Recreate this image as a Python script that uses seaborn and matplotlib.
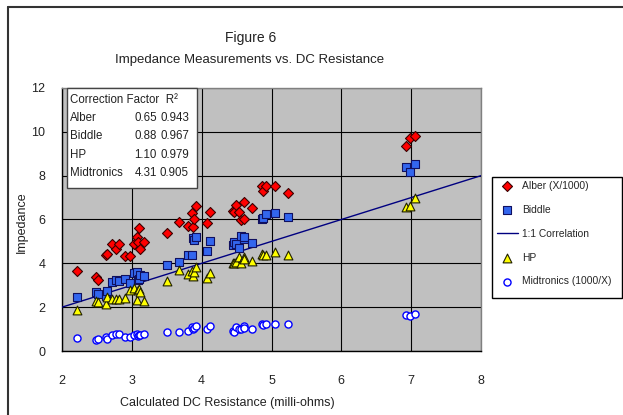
import matplotlib
matplotlib.use("Agg")
import matplotlib.pyplot as plt
import seaborn as sns
from matplotlib.patches import Rectangle
from matplotlib.lines import Line2D

# Calculated DC resistance of each sample (milli-ohms)
dc_resistance = [2.22, 2.48, 2.51, 2.63, 2.65, 2.71, 2.78, 2.82, 2.90, 2.98,
                 3.03, 3.08, 3.09, 3.10, 3.11, 3.17, 3.50, 3.68, 3.80, 3.86,
                 3.87, 3.89, 3.92, 4.07, 4.12, 4.45, 4.47, 4.49, 4.54, 4.56,
                 4.60, 4.61, 4.72, 4.87, 4.88, 4.92, 5.05, 5.23, 6.93, 6.98, 7.05]

# Impedance readings per instrument
alber = [3.64, 3.36, 3.22, 4.37, 4.42, 4.87, 4.67, 4.87, 4.34, 4.34,
         4.87, 5.22, 4.98, 5.63, 4.67, 4.96, 5.37, 5.87, 5.71, 6.28,
         5.65, 6.04, 6.62, 5.84, 6.36, 6.41, 6.33, 6.65, 6.33, 5.98,
         6.79, 6.04, 6.51, 7.55, 7.31, 7.53, 7.53, 7.20, 9.36, 9.71, 9.83]
biddle = [2.47, 2.68, 2.60, 2.49, 2.73, 3.13, 3.24, 3.20, 3.29, 3.09,
          3.56, 3.60, 3.24, 3.30, 3.45, 3.40, 3.91, 4.05, 4.38, 4.38,
          5.14, 5.05, 5.19, 4.57, 5.02, 4.84, 4.98, 4.90, 4.72, 5.25,
          5.13, 5.20, 4.93, 6.01, 6.05, 6.24, 6.28, 6.12, 8.38, 8.16, 8.55]
hp = [1.87, 2.30, 2.22, 2.15, 2.45, 2.36, 2.36, 2.36, 2.44, 2.79,
      2.88, 2.33, 2.79, 2.85, 2.70, 2.30, 3.21, 3.70, 3.50, 3.67,
      3.42, 3.60, 3.85, 3.35, 3.55, 4.02, 4.00, 4.05, 4.27, 4.00,
      4.30, 4.20, 4.09, 4.41, 4.40, 4.38, 4.51, 4.38, 6.55, 6.60, 6.97]
midtronics = [0.59, 0.50, 0.53, 0.65, 0.55, 0.71, 0.76, 0.76, 0.65, 0.65,
              0.73, 0.78, 0.70, 0.75, 0.72, 0.78, 0.88, 0.88, 0.93, 1.11,
              0.99, 1.05, 1.14, 0.99, 1.16, 0.93, 0.85, 1.11, 0.99, 0.99,
              1.14, 1.05, 0.99, 1.23, 1.20, 1.25, 1.25, 1.25, 1.65, 1.60, 1.70]

# 1:1 reference line
correlation_x = [2, 8]
correlation_y = [2, 8]

# Correction factor table
table_names = ["Alber", "Biddle", "HP", "Midtronics"]
correction_factor = ["0.65", "0.88", "1.10", "4.31"]
r_squared = ["0.943", "0.967", "0.979", "0.905"]

x_ticks = [2, 3, 4, 5, 6, 7, 8]
y_ticks = [0, 2, 4, 6, 8, 10, 12]

sns.set_theme(style="white")
plt.rcParams["font.family"] = ["Liberation Sans", "DejaVu Sans"]

W, H = 623, 415
fig = plt.figure(figsize=(W / 100, H / 100), dpi=100)
fig.patch.set_facecolor("white")


def fx(px):
    return px / W


def fy(py):
    return 1 - py / H


ax = fig.add_axes([fx(62), fy(351), fx(481) - fx(62), fy(88) - fy(351)])
ax.set_facecolor("#c0c0c0")

sns.scatterplot(x=dc_resistance, y=alber, marker="D", color="#ff0000",
                edgecolor="#3a0000", linewidth=0.8, s=26, ax=ax, zorder=4,
                label="Alber (X/1000)")
sns.scatterplot(x=dc_resistance, y=biddle, marker="s", color="#3366ee",
                edgecolor="#101060", linewidth=0.8, s=32, ax=ax, zorder=4,
                label="Biddle")
sns.lineplot(x=correlation_x, y=correlation_y, color="#000080", linewidth=1.0,
             ax=ax, zorder=3, label="1:1 Correlation")
sns.scatterplot(x=dc_resistance, y=hp, marker="^", color="#ffff00",
                edgecolor="#202000", linewidth=0.8, s=40, ax=ax, zorder=4,
                label="HP")
sns.scatterplot(x=dc_resistance, y=midtronics, marker="o", color="white",
                edgecolor="#0000ff", linewidth=1.0, s=26, ax=ax, zorder=4,
                label="Midtronics (1000/X)")

ax.set_xlim(2, 8)
ax.set_ylim(0, 12)
ax.set_xticks(x_ticks)
ax.set_yticks(y_ticks)
ax.set_xticklabels([str(v) for v in x_ticks])
ax.set_yticklabels([str(v) for v in y_ticks])
ax.grid(True, color="black", linewidth=0.8)
ax.set_axisbelow(True)
ax.tick_params(axis="both", direction="inout", length=6, width=1,
               color="black", labelsize=9, labelcolor="#222222")
ax.tick_params(axis="x", pad=14)
ax.tick_params(axis="y", pad=9)
ax.set_xlabel("")
ax.set_ylabel("")
for side in ("left", "bottom"):
    ax.spines[side].set_color("black")
    ax.spines[side].set_linewidth(1.0)
for side in ("top", "right"):
    ax.spines[side].set_color("#808080")
    ax.spines[side].set_linewidth(1.0)

# Legend to the right of the plot
handles, labels = ax.get_legend_handles_labels()
ax.get_legend().remove()
fig.legend(handles, labels, loc="upper left",
           bbox_to_anchor=(fx(497), fy(181)), frameon=False, fontsize=7.4,
           labelspacing=1.35, handlelength=2.0, handletextpad=0.45,
           borderaxespad=0, borderpad=0)
fig.patches.append(Rectangle((fx(492), fy(298)), fx(622) - fx(492),
                             fy(177) - fy(298), transform=fig.transFigure,
                             fill=False, edgecolor="black", linewidth=1.0,
                             zorder=5))

# Correction factor table
fig.patches.append(Rectangle((fx(67), fy(188)), fx(197) - fx(67),
                             fy(88) - fy(188), transform=fig.transFigure,
                             facecolor="white", edgecolor="#444444",
                             linewidth=1.0, zorder=5))
fig.text(fx(70), fy(100), "Correction Factor  R²", fontsize=8.3, ha="left",
         va="center", color="#222222", zorder=6)
row_y = [118, 136, 155, 173]
for name, cf, r2, yy in zip(table_names, correction_factor, r_squared, row_y):
    fig.text(fx(70), fy(yy), name, fontsize=8.3, ha="left", va="center",
             color="#222222", zorder=6)
    fig.text(fx(157), fy(yy), cf, fontsize=8.3, ha="right", va="center",
             color="#222222", zorder=6)
    fig.text(fx(189), fy(yy), r2, fontsize=8.3, ha="right", va="center",
             color="#222222", zorder=6)

# Titles and axis labels
fig.text(fx(251), fy(38), "Figure 6", fontsize=10, ha="center", va="center",
         color="#222222")
fig.text(fx(250), fy(60), "Impedance Measurements vs. DC Resistance",
         fontsize=9.5, ha="center", va="center", color="#222222")
fig.text(fx(22), fy(222), "Impedance", fontsize=9, rotation=90,
         ha="center", va="center", color="#222222")
fig.text(fx(227), fy(403), "Calculated DC Resistance (milli-ohms)",
         fontsize=9, ha="center", va="center", color="#222222")

# Chart area border
fig.lines.append(Line2D([fx(8), fx(8)], [0, fy(7)], transform=fig.transFigure,
                        color="#333333", linewidth=1.5))
fig.lines.append(Line2D([fx(8), 1], [fy(7), fy(7)], transform=fig.transFigure,
                        color="#333333", linewidth=1.5))

fig.savefig("out.png", dpi=100)
